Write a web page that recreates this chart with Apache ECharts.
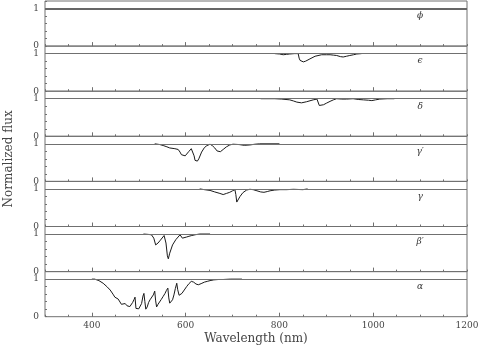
<!DOCTYPE html>
<html>
<head>
<meta charset="utf-8">
<script src="https://cdn.jsdelivr.net/npm/echarts@6/dist/echarts.min.js"></script>
<style>
  html, body { margin: 0; padding: 0; background: #fff; }
  #chart { width: 480px; height: 345px; }
</style>
</head>
<body>
<div id="chart"></div>
<script>
// panel labels, top to bottom
var panelNames = ['\u03d5', '\u03f5', '\u03b4', '\u03b3\u2032', '\u03b3', '\u03b2\u2032', '\u03b1'];

// spectra: wavelength (nm) and normalized flux
var phiWave = [1005, 1015, 1022, 1030, 1038, 1045, 1052, 1060, 1100, 1103, 1106, 1110, 1120, 1128, 1135, 1142, 1150];
var phiFlux = [1.0, 0.99, 1.0, 0.99, 1.0, 0.99, 1.0, 1.0, 1.0, 0.97, 0.99, 1.0, 0.99, 1.0, 0.99, 1.0, 1.0];

var epsWave = [790, 800, 808, 815, 822, 832, 840, 842, 844, 847, 851, 856, 865, 876, 890, 900, 908, 915, 922, 930, 936, 943, 950, 958, 965, 975];
var epsFlux = [1.0, 0.99, 0.97, 0.98, 0.99, 1.0, 1.0, 0.88, 0.82, 0.77, 0.78, 0.80, 0.86, 0.93, 0.97, 0.97, 0.97, 0.96, 0.95, 0.92, 0.91, 0.93, 0.95, 0.97, 0.99, 1.0];

var delWave = [760, 790, 805, 822, 830, 837, 847, 858, 872, 880, 883, 885, 889, 894, 900, 908, 915, 922, 933, 943, 957, 968, 979, 990, 997, 1005, 1014, 1030, 1045];
var delFlux = [1.0, 1.0, 0.99, 0.97, 0.94, 0.91, 0.89, 0.92, 0.97, 0.99, 0.99, 0.82, 0.81, 0.84, 0.88, 0.93, 0.97, 1.0, 0.99, 0.99, 1.0, 0.98, 0.97, 0.96, 0.95, 0.97, 0.99, 1.0, 1.0];

var gamPWave = [534, 545, 552, 560, 566, 577, 584, 588, 591, 595, 599, 602, 607, 612, 615, 618, 620, 622, 625, 628, 634, 640, 645, 652, 657, 662, 667, 670, 674, 680, 687, 694, 701, 714, 725, 737, 748, 758, 800];
var gamPFlux = [1.0, 0.98, 0.955, 0.92, 0.89, 0.87, 0.85, 0.78, 0.71, 0.66, 0.68, 0.73, 0.80, 0.87, 0.82, 0.68, 0.56, 0.51, 0.54, 0.60, 0.78, 0.90, 0.95, 0.99, 0.95, 0.89, 0.81, 0.78, 0.79, 0.85, 0.92, 0.97, 0.99, 0.98, 0.96, 0.97, 0.99, 1.0, 1.0];

var gamWave = [630, 640, 652, 662, 673, 680, 687, 694, 700, 705, 707, 709, 711, 713, 716, 722, 730, 737, 744, 752, 760, 767, 774, 780, 790, 801, 815, 830, 850, 860];
var gamFlux = [1.0, 0.98, 0.96, 0.92, 0.88, 0.85, 0.88, 0.91, 0.95, 0.98, 0.85, 0.65, 0.60, 0.70, 0.80, 0.90, 0.97, 0.99, 0.98, 0.95, 0.92, 0.91, 0.93, 0.95, 0.97, 0.98, 0.98, 0.99, 0.98, 1.0];

var betPWave = [510, 520, 527, 532, 536, 541, 545, 549, 554, 558, 561, 563, 566, 572, 579, 588, 593, 597, 602, 607, 613, 620, 630, 652];
var betPFlux = [1.0, 0.99, 0.98, 0.89, 0.71, 0.76, 0.82, 0.87, 0.96, 0.76, 0.42, 0.34, 0.49, 0.71, 0.85, 0.98, 0.89, 0.85, 0.92, 0.94, 0.96, 0.98, 1.0, 1.0];

var alpWave = [400, 406, 415, 424, 432, 439, 445, 449, 453, 456, 460, 463, 467, 471, 475, 478, 481, 484, 487, 490, 492, 494, 497, 500, 503, 506, 509, 511, 513, 515, 518, 521, 524, 528, 531, 534, 536, 538, 541, 544, 548, 552, 556, 559, 562, 564, 566, 569, 572, 575, 578, 581, 583, 586, 589, 592, 597, 602, 607, 612, 617, 622, 627, 633, 640, 646, 652, 660, 670, 680, 695, 720];
var alpFlux = [1.0, 1.0, 0.96, 0.89, 0.80, 0.71, 0.60, 0.52, 0.49, 0.47, 0.45, 0.33, 0.37, 0.35, 0.29, 0.25, 0.27, 0.30, 0.38, 0.46, 0.52, 0.22, 0.20, 0.21, 0.23, 0.35, 0.55, 0.62, 0.40, 0.20, 0.26, 0.38, 0.45, 0.50, 0.58, 0.68, 0.42, 0.26, 0.33, 0.38, 0.46, 0.54, 0.62, 0.70, 0.76, 0.50, 0.36, 0.40, 0.45, 0.58, 0.75, 0.89, 0.72, 0.57, 0.59, 0.62, 0.71, 0.80, 0.88, 0.94, 0.92, 0.87, 0.85, 0.88, 0.92, 0.94, 0.96, 0.98, 0.99, 0.99, 1.0, 1.0];

var waves = [phiWave, epsWave, delWave, gamPWave, gamWave, betPWave, alpWave];
var fluxes = [phiFlux, epsFlux, delFlux, gamPFlux, gamFlux, betPFlux, alpFlux];

var majorTicks = [400, 600, 800, 1000];
var xLabels = [400, 600, 800, 1000, 1200];

var axisColor = '#707070';
var textColor = '#444';
var serif = 'DejaVu Serif';

var chart = echarts.init(document.getElementById('chart'));

var grids = [], xAxes = [], yAxes = [], series = [];
for (var k = 0; k < 7; k++) {
    var last = (k === 6);
    grids.push({
        left: 45, right: 13, top: 1 + 45.1 * k, height: 45.1,
        containLabel: false, outerBoundsMode: 'none',
        show: true, borderColor: axisColor, borderWidth: 1, backgroundColor: 'transparent'
    });
    // minor ticks every 50 nm
    xAxes.push({
        gridIndex: k, type: 'value', position: 'bottom', min: 300, max: 1200, interval: 50,
        axisLine: { show: false },
        axisTick: { inside: true, length: 2, lineStyle: { color: axisColor } },
        axisLabel: { show: false },
        splitLine: { show: false }
    });
    // major ticks + labels
    xAxes.push({
        gridIndex: k, type: 'value', position: 'bottom', min: 300, max: 1200,
        axisLine: { show: false },
        axisTick: { inside: true, length: 4, customValues: majorTicks, lineStyle: { color: axisColor } },
        axisLabel: {
            show: last, customValues: xLabels, margin: 4,
            fontFamily: serif, fontSize: 9, color: textColor,
            formatter: function (v) { return String(v); }
        },
        splitLine: { show: false },
        name: last ? 'Wavelength (nm)' : '',
        nameLocation: 'middle', nameGap: 16,
        nameTextStyle: { fontFamily: serif, fontSize: 12, color: textColor }
    });
    yAxes.push({
        gridIndex: k, type: 'value', min: 0, max: 1.2, interval: 0.2,
        axisLine: { show: false },
        axisTick: { inside: true, length: 2, lineStyle: { color: axisColor } },
        axisLabel: {
            margin: 6, fontFamily: serif, fontSize: 9, color: textColor,
            formatter: function (v) {
                if (Math.abs(v) < 1e-6) return '0';
                if (Math.abs(v - 1) < 1e-6) return '1';
                return '';
            }
        },
        splitLine: { show: false },
        name: k === 3 ? 'Normalized flux' : '',
        nameLocation: 'middle', nameRotate: 90, nameGap: 30,
        nameTextStyle: { fontFamily: serif, fontSize: 12, color: textColor }
    });

    var pts = [];
    for (var i = 0; i < waves[k].length; i++) pts.push([waves[k][i], fluxes[k][i]]);

    series.push({
        type: 'line',
        xAxisIndex: 2 * k, yAxisIndex: k,
        data: pts,
        showSymbol: false,
        lineStyle: { color: '#1a1a1a', width: 1 },
        z: 3,
        markLine: {
            silent: true, symbol: 'none', label: { show: false },
            lineStyle: { color: k === 0 ? '#666' : axisColor, width: k === 0 ? 2 : 1, type: 'solid' },
            data: [{ yAxis: 1 }]
        },
        markPoint: {
            symbol: 'circle', symbolSize: 1,
            itemStyle: { color: 'transparent' },
            label: {
                show: true, position: 'inside', formatter: panelNames[k],
                fontFamily: serif, fontStyle: 'italic', fontSize: 9, color: '#333'
            },
            data: [{ coord: [1100, 0.8] }]
        }
    });
}

chart.setOption({
    animation: false,
    backgroundColor: '#fff',
    grid: grids,
    xAxis: xAxes,
    yAxis: yAxes,
    series: series
});
</script>
</body>
</html>
